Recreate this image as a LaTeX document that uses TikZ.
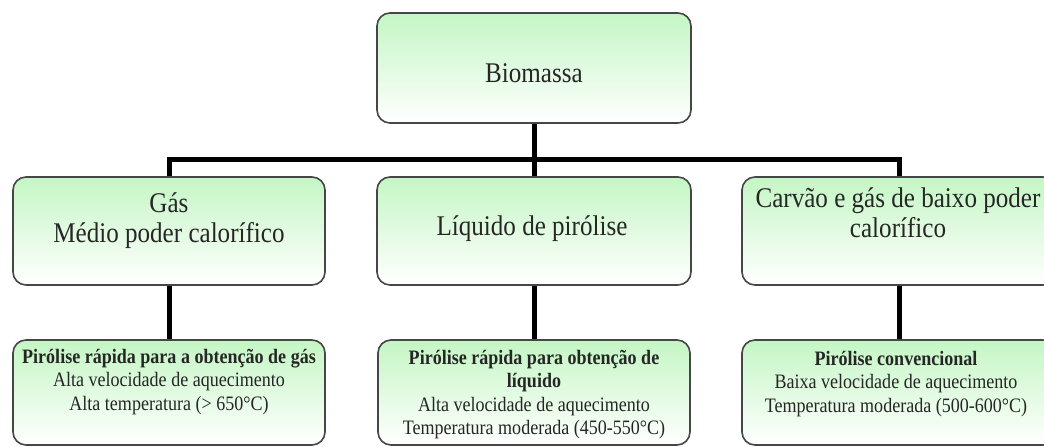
\documentclass[tikz,border=0pt]{standalone}
\usepackage{fontspec}
\setmainfont[FakeStretch=0.88]{Liberation Serif}
\definecolor{boxgreen}{RGB}{196,246,196}
\definecolor{boxline}{RGB}{70,70,70}
\begin{document}
\begin{tikzpicture}[x=1pt,y=-1pt,
  box/.style={draw=boxline, line width=1.6pt, rounded corners=13pt, top color=boxgreen, bottom color=white, inner sep=0pt},
  conn/.style={line width=5pt, black},
  big/.style={font=\fontsize{28.5}{30}\selectfont, anchor=base, inner sep=0pt, text=black!85},
  small/.style={font=\fontsize{20.5}{23.5}\selectfont, anchor=base, inner sep=0pt, text=black!85}]
\clip (0,0) rectangle (1044,447);
% connectors first (drawn under boxes)
\coordinate (bar) at (534,159);
% boxes
\node[box, minimum width=314pt, minimum height=110pt] (bio) at (534,68) {};
\node[box, minimum width=312pt, minimum height=108pt] (gas) at (169,231) {};
\node[box, minimum width=314pt, minimum height=108pt] (liq) at (534,231) {};
\node[box, minimum width=314pt, minimum height=108pt] (carv) at (899,231) {};
\node[box, minimum width=312pt, minimum height=105pt] (pg) at (169,392.5) {};
\node[box, minimum width=312pt, minimum height=105pt] (pl) at (534,392.5) {};
\node[box, minimum width=314pt, minimum height=105pt] (pc) at (899,392.5) {};
% connectors
\draw[conn] (bio.south) -- (liq.north);
\draw[conn] (gas.north) -- (gas.north |- bar) -- (carv.north |- bar) -- (carv.north);
\draw[conn] (gas.south) -- (pg.north);
\draw[conn] (liq.south) -- (pl.north);
\draw[conn] (carv.south) -- (pc.north);
% texts
\node[big] (tbio) at (534,82) {Biomassa};
\node[big] (tgas) at (169,212) {\begin{tabular}[t]{@{}c@{}}Gás\\Médio poder calorífico\end{tabular}};
\node[big] (tliq) at (532,235) {Líquido de pirólise};
\node[big] (tcarv) at (898,207) {\begin{tabular}[t]{@{}c@{}}Carvão e gás de baixo poder\\calorífico\end{tabular}};
\node[small] (tpg) at (169,363) {\begin{tabular}[t]{@{}c@{}}\textbf{Pirólise rápida para a obtenção de gás}\\Alta velocidade de aquecimento\\Alta temperatura (> 650°C)\end{tabular}};
\node[small] (tpl) at (534,364) {\begin{tabular}[t]{@{}c@{}}\textbf{Pirólise rápida para obtenção de}\\\textbf{líquido}\\Alta velocidade de aquecimento\\Temperatura moderada (450-550°C)\end{tabular}};
\node[small] (tpc) at (896,365) {\begin{tabular}[t]{@{}c@{}}\textbf{Pirólise convencional}\\Baixa velocidade de aquecimento\\Temperatura moderada (500-600°C)\end{tabular}};
\end{tikzpicture}
\end{document}
